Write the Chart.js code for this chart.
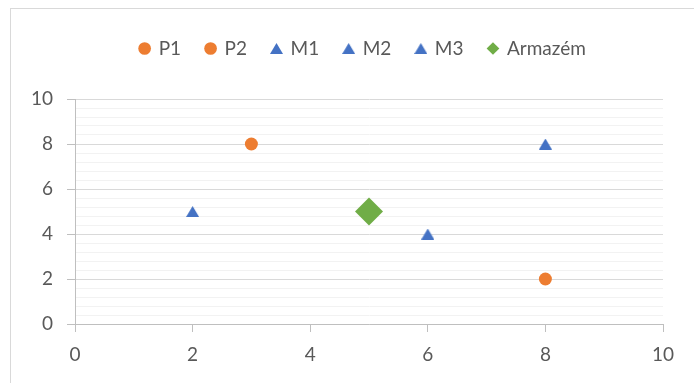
<html>
    <head>
        <meta charset="UTF-8">
        <title>Armazém</title>
        <script src="https://cdn.jsdelivr.net/npm/chart.js@4"></script>
        <style>
            body {
                margin: 0;
                width: 694px;
                height: 383px;
                overflow: hidden;
                background: #ffffff;
            }
            .frame {
                position: absolute;
                left: 10px;
                top: 8px;
                width: 720px;
                height: 420px;
                border: 1px solid #d9d9d9;
            }
            .chart_container {
                position: absolute;
                left: 0;
                top: 0;
                width: 694px;
                height: 383px;
            }
        </style>
    </head>
    <body>
        <div class='frame'></div>
        <div class='chart_container'>
            <canvas id='chart'></canvas>
        </div>

        <script>
            // data
            const names = ['P1', 'P2', 'M1', 'M2', 'M3', 'Armazém'];
            const xValues = [3, 8, 2, 6, 8, 5];
            const yValues = [8, 2, 5, 4, 8, 5];
            const axisMin = 0;
            const axisMax = 10;
            const majorStep = 2;
            const minorStep = 0.4;

            // looks
            const colors = ['#ED7D31', '#ED7D31', '#4472C4', '#4472C4', '#4472C4', '#70AD47'];
            const sizes = [6.5, 6.5, 7.5, 7.5, 7.5, 14];

            // Excel centres its triangle on the box, not the centroid -> small canvas marker
            function triangleMarker(color) {
                const c = document.createElement('canvas');
                c.width = 13;
                c.height = 11;
                const g = c.getContext('2d');
                g.fillStyle = color;
                g.beginPath();
                g.moveTo(6.5, 0);
                g.lineTo(13, 11);
                g.lineTo(0, 11);
                g.closePath();
                g.fill();
                return c;
            }
            const tri = triangleMarker('#4472C4');
            const shapes = ['circle', 'circle', tri, tri, tri, 'rectRot'];

            const isMajor = (v) => Math.abs(v / majorStep - Math.round(v / majorStep)) < 1e-6;
            const font = { family: 'Lato, "Noto Sans", sans-serif', size: 19 };

            const datasets = names.map((name, i) => ({
                label: name,
                data: [{ x: xValues[i], y: yValues[i] }],
                pointStyle: shapes[i],
                pointRadius: sizes[i],
                pointBorderWidth: 0,
                backgroundColor: colors[i],
                borderColor: colors[i]
            }));

            // extra room under the legend, and legend nudged right like the original
            const legendPlace = {
                id: 'legendPlace',
                beforeInit(chart) {
                    const fit = chart.legend.fit;
                    chart.legend.fit = function () {
                        fit.call(this);
                        this.height += 31;
                    };
                },
                afterLayout(chart) {
                    chart.legend.left += 31.5;
                    chart.legend.right += 31.5;
                }
            };

            new Chart(document.getElementById('chart'), {
                type: 'scatter',
                data: { datasets: datasets },
                plugins: [legendPlace],
                options: {
                    responsive: true,
                    maintainAspectRatio: false,
                    animation: false,
                    layout: { padding: { top: 14, right: 31, left: 0, bottom: 0 } },
                    plugins: {
                        tooltip: { enabled: false },
                        legend: {
                            position: 'top',
                            labels: {
                                usePointStyle: true,
                                boxWidth: 9,
                                boxHeight: 9,
                                padding: 25,
                                color: '#595959',
                                font: font
                            }
                        }
                    },
                    scales: {
                        x: {
                            min: axisMin,
                            max: axisMax,
                            afterFit: (scale) => { scale.height = 59; },
                            ticks: { stepSize: majorStep, color: '#595959', font: font, padding: 11 },
                            grid: { drawOnChartArea: false, tickLength: 8, color: '#bfbfbf' },
                            border: { color: '#bfbfbf' }
                        },
                        y: {
                            min: axisMin,
                            max: axisMax,
                            afterFit: (scale) => { scale.width = 75; },
                            ticks: {
                                stepSize: minorStep,
                                autoSkip: false,
                                color: '#595959',
                                font: font,
                                padding: 14,
                                callback: (v) => isMajor(v) ? Math.round(v) : ''
                            },
                            grid: {
                                tickLength: 8,
                                color: (ctx) => isMajor(ctx.tick.value) ? '#d9d9d9' : '#f2f2f2',
                                tickColor: (ctx) => isMajor(ctx.tick.value) ? '#bfbfbf' : 'rgba(0,0,0,0)'
                            },
                            border: { color: '#bfbfbf' }
                        }
                    }
                }
            });
        </script>
    </body>
</html>
